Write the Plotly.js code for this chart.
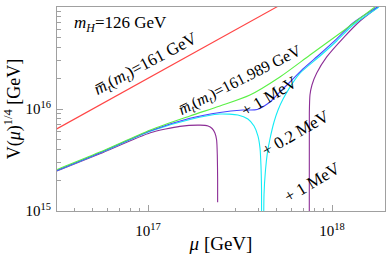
<!DOCTYPE html>
<html>
<head>
<meta charset="utf-8">
<script src="https://cdn.plot.ly/plotly-3.0.1.min.js"></script>
<style>html,body{margin:0;padding:0;background:#fff;}#chart{width:387px;height:254px;}</style>
</head>
<body>
<div id="chart"></div>
<script>
// mu [GeV] and V(mu)^(1/4) [GeV]
const redMu   = [3.0e16, 1.0e17, 6.0e17];
const redV    = [6.0e15, 2.0e16, 1.2e17];

const greenMu = [3.2e16, 5.48e16, 1.03e17, 1.69e17, 2.46e17, 3.58e17, 5.21e17, 7.59e17, 1.11e18, 1.71e18];
const greenV  = [2.55e15, 3.78e15, 6.22e15, 8.54e15, 1.07e16, 1.37e16, 2.06e16, 3.38e16, 5.56e16, 1.0e17];

const blueMu  = [3.2e16, 5.48e16, 1.03e17, 1.69e17, 2.46e17, 3.28e17, 3.92e17, 4.60e17, 5.21e17, 5.91e17, 6.95e17, 8.61e17, 1.06e18, 1.30e18, 1.76e18];
const blueV   = [2.50e15, 3.72e15, 6.12e15, 8.10e15, 9.25e15, 9.78e15, 9.89e15, 1.17e16, 1.47e16, 1.84e16, 2.47e16, 3.46e16, 4.86e16, 6.97e16, 1.0e17];

const cyanLeftMu  = [3.2e16, 5.48e16, 1.03e17, 1.69e17, 2.46e17, 3.08e17, 3.49e17, 3.77e17, 3.96e17, 4.06e17, 4.11e17, 4.14e17, 4.15e17];
const cyanLeftV   = [2.49e15, 3.70e15, 6.05e15, 7.90e15, 8.93e15, 8.73e15, 7.98e15, 6.81e15, 5.43e15, 4.15e15, 2.83e15, 1.61e15, 1.0e13];
const cyanRightMu = [4.25e17, 4.27e17, 4.35e17, 4.46e17, 4.60e17, 4.84e17, 5.09e17, 5.42e17, 5.91e17, 6.70e17, 8.61e17, 1.06e18, 1.30e18, 1.80e18];
const cyanRightV  = [1.0e13, 1.44e15, 2.52e15, 3.78e15, 5.08e15, 7.46e15, 9.78e15, 1.25e16, 1.64e16, 2.25e16, 3.31e16, 4.64e16, 6.66e16, 1.0e17];

const purpleLeftMu  = [3.2e16, 5.48e16, 1.03e17, 1.49e17, 1.92e17, 2.12e17, 2.23e17, 2.31e17, 2.36e17, 2.38e17, 2.39e17, 2.39e17];
const purpleLeftV   = [2.47e15, 3.64e15, 5.85e15, 6.75e15, 6.95e15, 6.81e15, 6.44e15, 5.82e15, 4.97e15, 3.54e15, 2.02e15, 1.22e15];
const purpleRightMu = [7.52e17, 7.53e17, 7.59e17, 7.78e17, 8.26e17, 9.36e17, 1.15e18, 1.42e18, 1.78e18];
const purpleRightV  = [1.0e13, 9.14e15, 1.37e16, 1.72e16, 2.25e16, 3.24e16, 4.96e16, 7.29e16, 1.0e17];

const xMajor = [1e17, 1e18];
const xMajorText = ['10<sup>17</sup>', '10<sup>18</sup>'];
const yMajor = [1e15, 1e16, 1e17];
const yMajorText = ['10<sup>15</sup>', '10<sup>16</sup>', '10<sup>17</sup>'];
const xMinor = [4e16,5e16,6e16,7e16,8e16,9e16,2e17,3e17,4e17,5e17,6e17,7e17,8e17,9e17];
const yMinor = [2e15,3e15,4e15,5e15,6e15,7e15,8e15,9e15,2e16,3e16,4e16,5e16,6e16,7e16,8e16,9e16];

const SERIF = '"Liberation Serif", "DejaVu Serif", serif';

function line(x, y, color, smooth) {
  return {x: x, y: y, type: 'scatter', mode: 'lines',
    line: {color: color, width: 1.1, shape: smooth ? 'spline' : 'linear', smoothing: smooth || 0},
    showlegend: false, hoverinfo: 'skip'};
}

const data = [
  line(redMu, redV, 'rgb(255,70,70)'),
  line(purpleLeftMu, purpleLeftV, 'rgb(140,45,150)', 0.6),
  line(purpleRightMu, purpleRightV, 'rgb(140,45,150)', 0.6),
  line(cyanLeftMu, cyanLeftV, 'rgb(20,235,245)', 0.6),
  line(cyanRightMu, cyanRightV, 'rgb(20,235,245)', 0.6),
  line(blueMu, blueV, 'rgb(70,70,255)', 0.8),
  line(greenMu, greenV, 'rgb(90,240,70)', 0.8)
];

const axisCommon = {
  type: 'log', showgrid: false, zeroline: false,
  showline: true, mirror: true, linecolor: 'rgb(160,160,160)', linewidth: 1,
  ticks: 'inside', ticklen: 6, tickcolor: 'rgb(160,160,160)', tickwidth: 1,
  tickmode: 'array',
  tickfont: {family: SERIF, size: 15, color: '#000'}
};

const ann = (x, y, text, angle, size) => ({
  xref: 'paper', yref: 'paper', x: x, y: y, text: text, showarrow: false,
  textangle: angle, font: {family: SERIF, size: size || 16, color: '#000'},
  xanchor: 'center', yanchor: 'middle'
});

const W = 387, H = 254, L = 57, R = 2, T = 7, B = 43;
const px = v => (v - L) / (W - L - R);
const py = v => 1 - (v - T) / (H - T - B);

const MT = '<i>m\u0305<sub>t</sub></i>(<i>m<sub>t</sub></i>)';

const layout = {
  width: W, height: H,
  margin: {l: L, r: R, t: T, b: B, pad: 0},
  paper_bgcolor: '#fff', plot_bgcolor: '#fff',
  xaxis: Object.assign({}, axisCommon, {
    range: [16.5054, 18.288],
    tickvals: xMajor, ticktext: xMajorText,
    ticklabelstandoff: 6,
    minor: {tickmode: 'array', tickvals: xMinor, ticks: 'inside', ticklen: 3.5, tickcolor: 'rgb(160,160,160)', tickwidth: 1, showgrid: false},
    title: {text: '<i>μ</i> [GeV]', font: {family: SERIF, size: 19, color: '#000'}, standoff: 2}
  }),
  yaxis: Object.assign({}, axisCommon, {
    range: [15, 17],
    tickvals: yMajor, ticktext: yMajorText,
    ticklabelstandoff: 2,
    minor: {tickmode: 'array', tickvals: yMinor, ticks: 'inside', ticklen: 3.5, tickcolor: 'rgb(160,160,160)', tickwidth: 1, showgrid: false},
    title: {text: 'V(<i>μ</i>)<sup>1/4</sup> [GeV]', font: {family: SERIF, size: 18, color: '#000'}, standoff: 0}
  }),
  annotations: [
    Object.assign(ann(px(72), py(24), '<i>m<sub>H</sub></i>=126 GeV', 0, 17), {xanchor: 'left'}),
    ann(px(146), py(65), MT + '=161 GeV', -28, 17),
    ann(px(240), py(80), MT + '=161.989 GeV', -27, 16),
    ann(px(269), py(96), '+ 1 MeV', -31, 17),
    ann(px(295), py(133), '+ 0.2 MeV', -30, 17),
    ann(px(312), py(182), '+ 1 MeV', -31, 17)
  ]
};

Plotly.newPlot('chart', data, layout, {displayModeBar: false, staticPlot: true});
</script>
</body>
</html>
